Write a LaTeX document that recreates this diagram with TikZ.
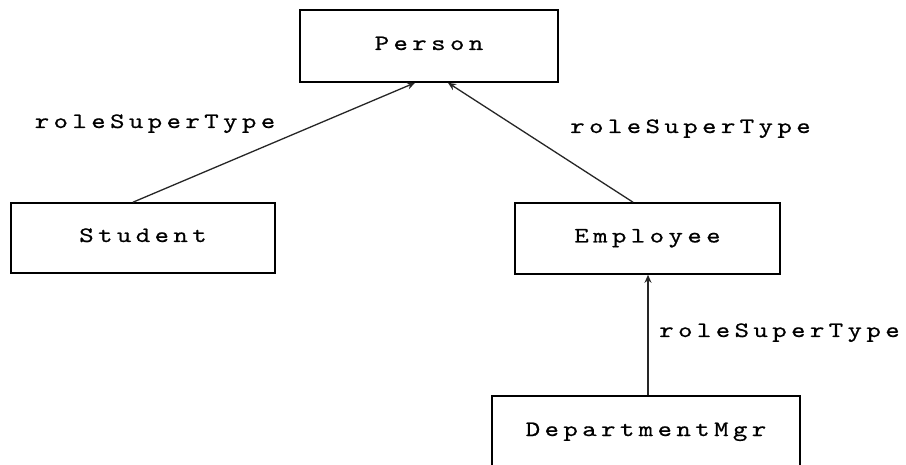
\documentclass[tikz,border=0pt]{standalone}
\usepackage{fontspec}
\usetikzlibrary{arrows.meta}
\newfontfamily\diagfont[LetterSpace=20,FakeStretch=1.25,FakeBold=0.6]{lmmono10-regular.otf}
\begin{document}
\begin{tikzpicture}[x=1pt,y=-1pt,
  cls/.style={draw=black, line width=1.6pt, inner sep=0pt, text height=14pt, text depth=6pt,
    font=\diagfont\fontsize{22pt}{26pt}\selectfont},
  lbl/.style={anchor=base, inner sep=0pt, font=\diagfont\fontsize{22pt}{26pt}\selectfont},
  gen/.style={draw=black!85, line width=1.3pt, -{Stealth[length=8pt,width=7pt]}}]
\useasboundingbox (0,0) rectangle (906,465);
\clip (0,0) rectangle (906,465);
\fill[white] (0,0) rectangle (906,465);
\node[cls, minimum width=258pt, minimum height=72pt] (person) at (429,46) {Person};
\node[cls, minimum width=264pt, minimum height=70pt] (student) at (143,238) {Student};
\node[cls, minimum width=265pt, minimum height=71pt] (employee) at (647.5,238.5) {Employee};
\node[cls, minimum width=308pt, minimum height=72pt] (dept) at (646,432) {DepartmentMgr};
\draw[gen] ([xshift=-10pt]student.north) -- ([xshift=-14pt]person.south);
\draw[gen] ([xshift=-14.5pt]employee.north) -- ([xshift=19pt]person.south);
\draw[gen] ([xshift=2pt]dept.north) -- ([xshift=2pt]dept.north |- employee.south);
\node[lbl] (l1) at (155,128) {roleSuperType};
\node[lbl] (l2) at (690.5,133) {roleSuperType};
\node[lbl] (l3) at (779.5,337) {roleSuperType};
\end{tikzpicture}
\end{document}
